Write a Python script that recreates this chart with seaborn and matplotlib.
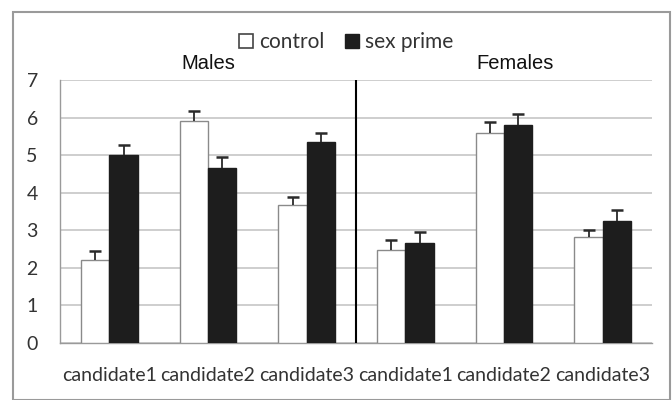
import numpy as np
import pandas as pd
import seaborn as sns
import matplotlib.pyplot as plt
from matplotlib.patches import Rectangle, Patch

# Mean ratings per candidate, split by participant sex and priming condition
groups = ["Males", "Males", "Males", "Females", "Females", "Females"]
candidates = ["candidate1", "candidate2", "candidate3",
              "candidate1", "candidate2", "candidate3"]
conditions = ["control", "sex prime"]
control = [2.21, 5.91, 3.66, 2.47, 5.59, 2.81]
sex_prime = [5.00, 4.65, 5.35, 2.67, 5.80, 3.26]
control_err = [0.25, 0.26, 0.22, 0.26, 0.28, 0.21]
sex_prime_err = [0.27, 0.29, 0.25, 0.28, 0.29, 0.27]
y_ticks = [0, 1, 2, 3, 4, 5, 6, 7]

slots = [f"{g} {c}" for g, c in zip(groups, candidates)]
df = pd.DataFrame({
    "slot": slots * 2,
    "condition": ["control"] * 6 + ["sex prime"] * 6,
    "value": control + sex_prime,
})
errs = {"control": control_err, "sex prime": sex_prime_err}

sns.set_theme(style="white")
plt.rcParams["font.family"] = ["Lato", "DejaVu Sans"]

fig = plt.figure(figsize=(6.72, 4.0), dpi=100)
ax = fig.add_axes([0.0893, 0.1425, 0.881, 0.6575])

palette = {"control": "white", "sex prime": "#1d1d1d"}
sns.barplot(data=df, x="slot", y="value", hue="condition", order=slots,
            hue_order=conditions, palette=palette, width=0.575,
            errorbar=None, legend=False, zorder=3, ax=ax)

edge = {"control": "#8a8a8a", "sex prime": "#1d1d1d"}
for cont, cond in zip(ax.containers, conditions):
    for bar, e in zip(cont, errs[cond]):
        bar.set_edgecolor(edge[cond])
        bar.set_linewidth(1.0)
        xc = bar.get_x() + bar.get_width() / 2
        h = bar.get_height()
        # upper-only error bar: hide the cap sitting on the bar top
        _, caps, _ = ax.errorbar(xc, h, yerr=[[0], [e]], fmt="none",
                                 ecolor="#2a2a2a", elinewidth=1.3,
                                 capsize=4, capthick=1.8, zorder=4)
        caps[0].set_visible(False)

ax.set_ylim(0, 7)
ax.set_xlim(-0.5, 5.5)
ax.set_yticks(y_ticks)
ax.set_yticklabels([str(t) for t in y_ticks])
ax.yaxis.grid(True, color="#c6c6c6", linewidth=1.2, zorder=0)
ax.set_axisbelow(True)

ax.set_xticks(range(6))
ax.set_xticklabels(candidates)
ax.set_xticks(np.arange(-0.5, 6.0, 1.0), minor=True)
ax.tick_params(axis="x", which="major", length=0, pad=17,
               labelsize=14, labelcolor="#333333")
ax.tick_params(axis="x", which="minor", length=6, width=1.0,
               color="#9a9a9a", direction="out")
ax.tick_params(axis="y", length=6, width=1.0, color="#9a9a9a",
               labelsize=14, labelcolor="#333333", pad=10)
ax.set_xlabel("")
ax.set_ylabel("")

for side in ["top", "right"]:
    ax.spines[side].set_visible(False)
for side in ["left", "bottom"]:
    ax.spines[side].set_color("#9a9a9a")
    ax.spines[side].set_linewidth(1.0)

# Separator between the two participant groups
ax.axvline(2.5, ymin=0, ymax=1, color="black", linewidth=1.5, zorder=5)

ax.text(1.0, 7.18, "Males", ha="center", va="bottom", fontsize=14.5,
        family=["Liberation Sans", "DejaVu Sans"], color="#111111")
ax.text(4.11, 7.18, "Females", ha="center", va="bottom", fontsize=14.5,
        family=["Liberation Sans", "DejaVu Sans"], color="#111111")

handles = [Patch(facecolor="white", edgecolor="#444444", linewidth=1.2),
           Patch(facecolor="#1d1d1d", edgecolor="#1d1d1d")]
fig.legend(handles, conditions, loc="center", bbox_to_anchor=(0.515, 0.895),
           ncol=2, frameon=False, fontsize=15, handlelength=0.65,
           handleheight=0.65, handletextpad=0.3, columnspacing=1.0,
           labelcolor="#333333")

# Chart-area frame
fig.patches.append(Rectangle((13 / 672, 0.0), (670 - 13) / 672, (400 - 12) / 400,
                             transform=fig.transFigure, fill=False,
                             edgecolor="#9a9a9a", linewidth=1.5))

fig.savefig("out.png", dpi=100)
